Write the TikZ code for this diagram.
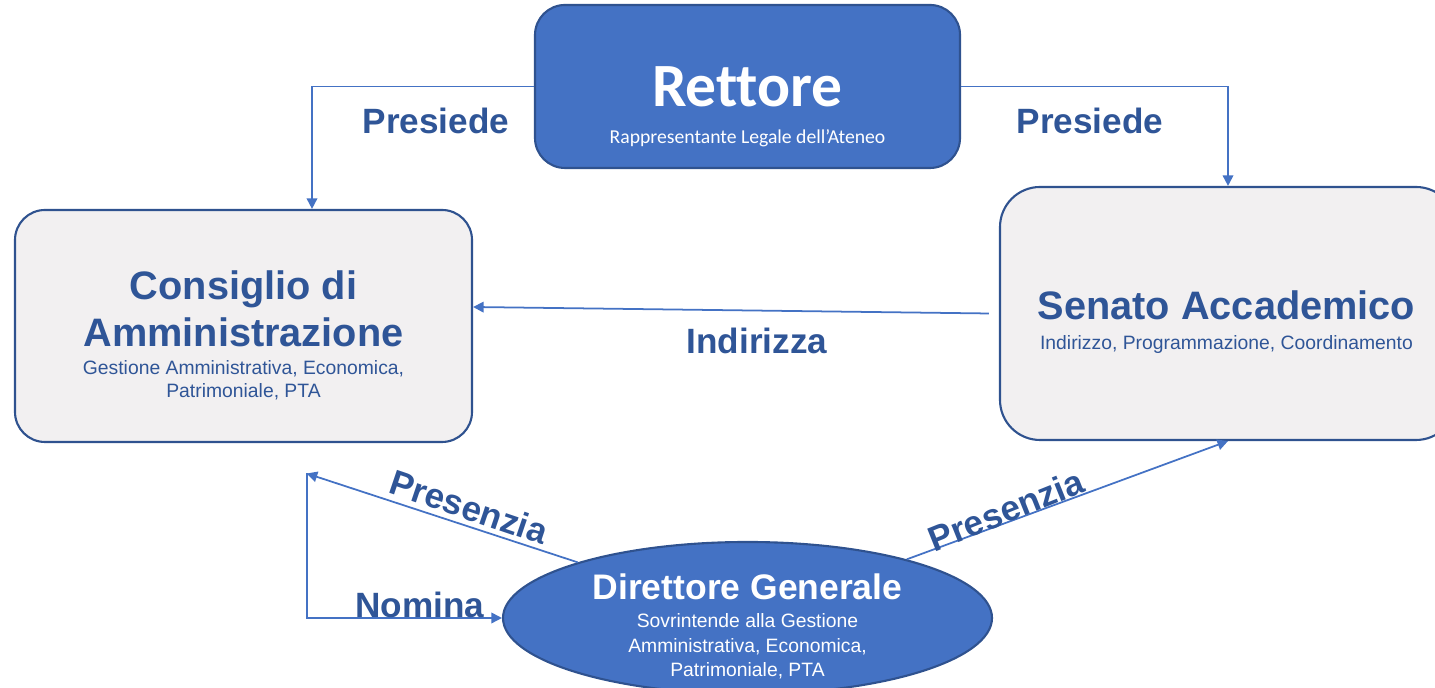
\documentclass[tikz,border=0pt]{standalone}
\usepackage{fontspec}
\setmainfont{Liberation Sans}
\newfontfamily\calibfont[Ligatures=CommonOff]{Carlito}
\usetikzlibrary{arrows.meta,shapes.geometric}

\definecolor{bluefill}{HTML}{4472C4}
\definecolor{blueedge}{HTML}{2F528F}
\definecolor{bluetext}{HTML}{2F5597}
\definecolor{greyfill}{HTML}{F2F0F1}

\begin{document}
\begin{tikzpicture}[
        organ/.style = { rectangle, rounded corners=0.3cm, draw=blueedge, line width=0.6pt, inner sep=0pt},
        link/.style = { draw=bluefill, line width=0.5pt, -{Triangle[length=3pt,width=3pt]}},
        verb/.style = { bluetext, inner sep=0pt, font=\fontsize{10}{12}\selectfont\bfseries},
        title/.style = { bluetext, anchor=base, inner sep=0pt, font=\fontsize{11.3}{13}\selectfont\bfseries},
        sub/.style = { bluetext, anchor=base, inner sep=0pt, font=\fontsize{5.5}{6.8}\selectfont}]
        \useasboundingbox (0,0) rectangle (14.35,6.88);
        \clip (0,0) rectangle (14.35,6.88);
        % the four bodies
        \node[organ,fill=bluefill,minimum width=4.25cm,minimum height=1.63cm] (rett) at (7.475,6.015) {};
        \node[organ,fill=greyfill,minimum width=4.57cm,minimum height=2.32cm] (cda) at (2.435,3.62) {};
        \node[organ,fill=greyfill,rounded corners=0.4cm,minimum width=4.56cm,minimum height=2.53cm] (sa) at (12.28,3.745) {};
        \node[ellipse,draw=blueedge,line width=0.6pt,fill=bluefill,minimum width=4.89cm,minimum height=1.52cm,inner sep=0pt] (dg) at (7.475,0.70) {};
        \coordinate (cdafoot) at (3.067,2.145);
        % texts
        \node[white,anchor=base,inner sep=0pt,font=\calibfont\fontsize{17.5}{20}\selectfont\bfseries] (rettname) at (7.475,5.81) {Rettore};
        \node[white,anchor=base,inner sep=0pt,font=\calibfont\fontsize{5.6}{7}\selectfont] (rettsub) at (7.475,5.44) {Rappresentante Legale dell’Ateneo};
        \node[title] (cdaname) at (2.435,3.88) {Consiglio di};
        \node[title] (cdaname2) at (2.435,3.41) {Amministrazione};
        \node[sub] (cdasub) at (2.435,3.13) {Gestione Amministrativa, Economica,};
        \node[sub] (cdasub2) at (2.435,2.90) {Patrimoniale, PTA};
        \node[title] (saname) at (12.265,3.68) {Senato Accademico};
        \node[sub] (sasub) at (12.265,3.38) {Indirizzo, Programmazione, Coordinamento};
        \node[title,white,font=\fontsize{10.1}{12}\selectfont\bfseries] (dgname) at (7.475,0.88) {Direttore Generale};
        \node[sub,white] (dgsub) at (7.475,0.60) {Sovrintende alla Gestione};
        \node[sub,white] (dgsub2) at (7.475,0.35) {Amministrativa, Economica,};
        \node[sub,white] (dgsub3) at (7.475,0.11) {Patrimoniale, PTA};
        % connectors
        \draw[link] (rett.west) -| ([xshift=0.685cm]cda.north);
        \draw[link] (rett.east) -| (sa.north);
        \draw[link] ([xshift=-0.1cm]sa.west) -- ([yshift=0.19cm]cda.east);
        \draw[link] (dg) -- (cdafoot);
        \draw[link] (cdafoot) |- (dg.west);
        \draw[link] (dg) -- (sa.south);
        \node[verb] (presl) at (4.36,5.67) {Presiede};
        \node[verb] (presr) at (10.90,5.67) {Presiede};
        \node[verb] (indir) at (7.57,3.47) {Indirizza};
        \node[verb] (nomina) at (4.20,0.83) {Nomina};
        \node[verb,rotate=-18.7] (presenl) at (4.69,1.81) {Presenzia};
        \node[verb,rotate=21.8] (presenr) at (10.06,1.78) {Presenzia};
\end{tikzpicture}
\end{document}
